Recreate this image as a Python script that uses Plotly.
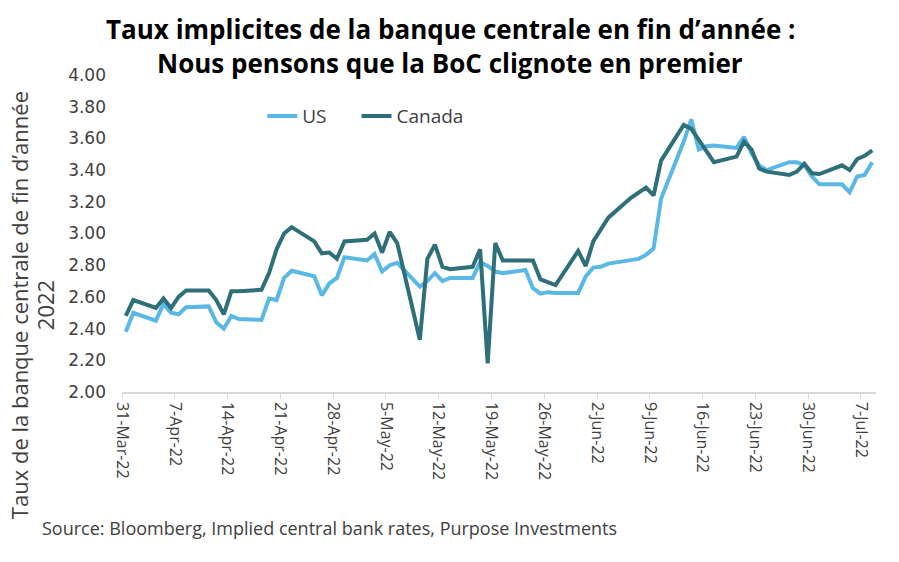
import plotly.graph_objects as go

dates = [
    "2022-03-31", "2022-04-01", "2022-04-04", "2022-04-05", "2022-04-06", "2022-04-07", "2022-04-08",
    "2022-04-11", "2022-04-12", "2022-04-13", "2022-04-14", "2022-04-15",
    "2022-04-18", "2022-04-19", "2022-04-20", "2022-04-21", "2022-04-22",
    "2022-04-25", "2022-04-26", "2022-04-27", "2022-04-28", "2022-04-29",
    "2022-05-02", "2022-05-03", "2022-05-04", "2022-05-05", "2022-05-06",
    "2022-05-09", "2022-05-10", "2022-05-11", "2022-05-12", "2022-05-13",
    "2022-05-16", "2022-05-17", "2022-05-18", "2022-05-19", "2022-05-20",
    "2022-05-23", "2022-05-24", "2022-05-25", "2022-05-26", "2022-05-27",
    "2022-05-30", "2022-05-31", "2022-06-01", "2022-06-02", "2022-06-03",
    "2022-06-06", "2022-06-07", "2022-06-08", "2022-06-09", "2022-06-10",
    "2022-06-13", "2022-06-14", "2022-06-15", "2022-06-16", "2022-06-17",
    "2022-06-20", "2022-06-21", "2022-06-22", "2022-06-23", "2022-06-24",
    "2022-06-27", "2022-06-28", "2022-06-29", "2022-06-30", "2022-07-01",
    "2022-07-04", "2022-07-05", "2022-07-06", "2022-07-07", "2022-07-08",
]

us = [
    2.38, 2.50, 2.45, 2.555, 2.50, 2.49, 2.535,
    2.54, 2.44, 2.40, 2.48, 2.46,
    2.455, 2.59, 2.58, 2.72, 2.765,
    2.73, 2.61, 2.685, 2.72, 2.85,
    2.83, 2.87, 2.76, 2.80, 2.815,
    2.665, 2.70, 2.75, 2.70, 2.72,
    2.72, 2.82, 2.795, 2.76, 2.75,
    2.77, 2.655, 2.62, 2.63, 2.625,
    2.625, 2.73, 2.785, 2.79, 2.81,
    2.835, 2.84, 2.865, 2.905, 3.22,
    3.58, 3.72, 3.53, 3.55, 3.555,
    3.54, 3.61, 3.505, 3.43, 3.40,
    3.45, 3.45, 3.43, 3.36, 3.31,
    3.31, 3.26, 3.36, 3.37, 3.45,
]

canada = [
    2.48, 2.58, 2.53, 2.59, 2.53, 2.60, 2.64,
    2.64, 2.58, 2.49, 2.635, 2.635,
    2.645, 2.75, 2.90, 3.00, 3.04,
    2.95, 2.875, 2.88, 2.84, 2.95,
    2.96, 3.00, 2.88, 3.01, 2.94,
    2.33, 2.84, 2.93, 2.79, 2.775,
    2.79, 2.90, 2.18, 2.94, 2.83,
    2.83, 2.83, 2.71, 2.69, 2.675,
    2.89, 2.795, 2.95, 3.03, 3.10,
    3.225, 3.26, 3.29, 3.24, 3.46,
    3.685, 3.66, 3.59, 3.52, 3.45,
    3.485, 3.58, 3.53, 3.41, 3.39,
    3.37, 3.39, 3.44, 3.38, 3.375,
    3.43, 3.40, 3.47, 3.49, 3.525,
]

tick_dates = ["2022-03-31", "2022-04-07", "2022-04-14", "2022-04-21", "2022-04-28",
              "2022-05-05", "2022-05-12", "2022-05-19", "2022-05-26", "2022-06-02",
              "2022-06-09", "2022-06-16", "2022-06-23", "2022-06-30", "2022-07-07"]
tick_labels = ["31-Mar-22", "7-Apr-22", "14-Apr-22", "21-Apr-22", "28-Apr-22",
               "5-May-22", "12-May-22", "19-May-22", "26-May-22", "2-Jun-22",
               "9-Jun-22", "16-Jun-22", "23-Jun-22", "30-Jun-22", "7-Jul-22"]

y_ticks = [2.0, 2.2, 2.4, 2.6, 2.8, 3.0, 3.2, 3.4, 3.6, 3.8, 4.0]

title_lines = ["Taux implicites de la banque centrale en fin d’année :",
               "Nous pensons que la BoC clignote en premier"]
y_title_lines = ["Taux de la banque centrale de fin d’année", "2022"]
source_text = "Source: Bloomberg, Implied central bank rates, Purpose Investments"

# points centred within each day (Excel date axis style)
x_mid = [d + " 12:00" for d in dates]

FONT = "Open Sans"
TXT = "#404040"

fig = go.Figure()
fig.add_trace(go.Scatter(x=x_mid, y=us, name="US", mode="lines", legend="legend",
                         line=dict(color="#59B8E6", width=4)))
fig.add_trace(go.Scatter(x=x_mid, y=canada, name="Canada", mode="lines", legend="legend2",
                         line=dict(color="#2E6F79", width=4)))

legend_common = dict(orientation="h", y=0.87, yanchor="middle", xanchor="left",
                     font=dict(family=FONT, size=19, color=TXT),
                     bgcolor="rgba(0,0,0,0)")

fig.update_layout(
    width=899, height=562,
    margin=dict(l=122, r=23, t=75, b=170),
    paper_bgcolor="white", plot_bgcolor="white",
    font=dict(family=FONT, color=TXT),
    legend=dict(x=0.186, **legend_common),
    legend2=dict(x=0.311, **legend_common),
    showlegend=True,
)

fig.update_xaxes(
    type="date",
    range=["2022-03-31", "2022-07-09"],
    tickmode="array", tickvals=tick_dates, ticktext=tick_labels,
    tickangle=90,
    tickfont=dict(family=FONT, size=16, color=TXT),
    showgrid=False, zeroline=False,
    showline=True, linecolor="#D9D9D9", linewidth=1.5,
    ticks="outside", ticklen=5, tickcolor="#D9D9D9",
)

fig.update_yaxes(
    range=[2.0, 4.0],
    tickmode="array", tickvals=y_ticks,
    tickformat=".2f",
    tickfont=dict(family="DejaVu Sans", size=17, color=TXT),
    showgrid=False, zeroline=False, showline=False,
    ticks="", ticklabelstandoff=15,
)

# two-line title
for txt, yp in zip(title_lines, [1.146, 1.038]):
    fig.add_annotation(
        text="<b>" + txt + "</b>", xref="paper", yref="paper",
        x=(450 - 122) / 754, y=yp, xanchor="center", yanchor="middle",
        showarrow=False, font=dict(family=FONT, size=26, color="#000000"),
    )

# y-axis title (two lines)
for txt, xp in zip(y_title_lines, [(19 - 122) / 754, (45 - 122) / 754]):
    fig.add_annotation(
        text=txt, xref="paper", yref="paper", x=xp, y=0.274,
        xanchor="center", yanchor="middle", textangle=-90, showarrow=False,
        font=dict(family=FONT, size=22, color=TXT),
    )

fig.add_annotation(
    text=source_text,
    xref="paper", yref="paper", x=(40 - 122) / 754, y=-0.429,
    xanchor="left", yanchor="middle", showarrow=False,
    font=dict(family=FONT, size=18, color=TXT),
)

fig.write_html("out.html", config={"displayModeBar": False},
               post_script="document.body.style.margin='0';")
